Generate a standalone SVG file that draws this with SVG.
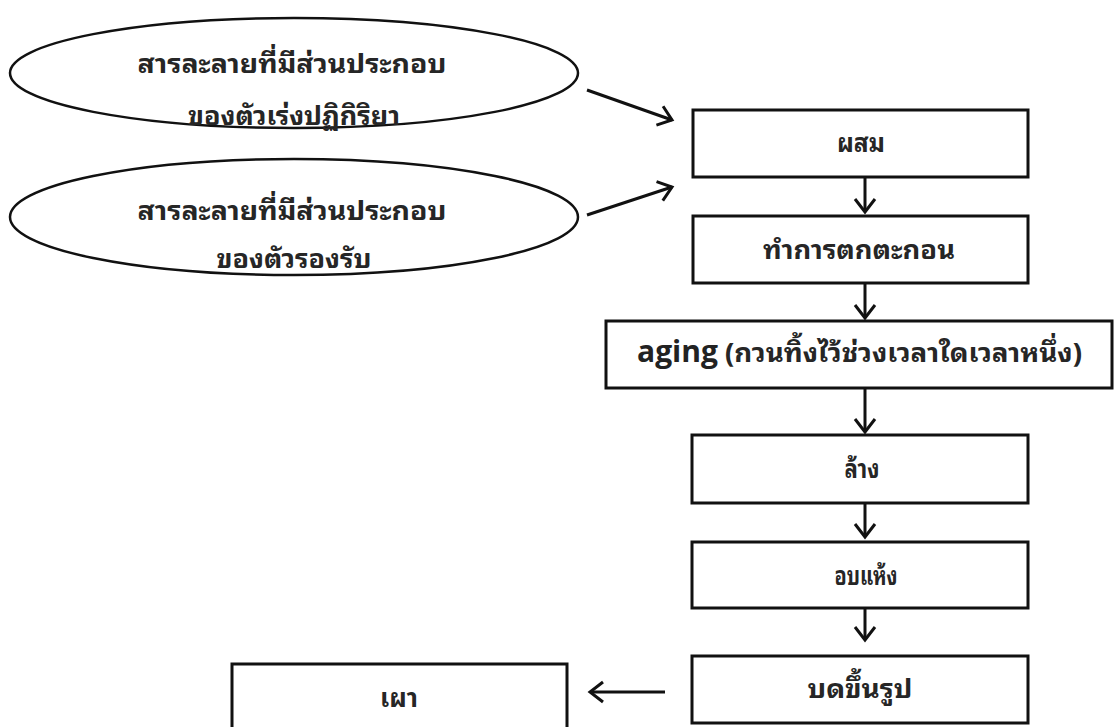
<svg xmlns="http://www.w3.org/2000/svg" width="1114" height="727" viewBox="0 0 1114 727">
<style>
.bg{fill:#ffffff}
.box{fill:#ffffff;stroke:#111;stroke-width:3}
.ell{fill:#ffffff;stroke:#111;stroke-width:2.5}
.t{font-family:"Noto Sans Thai Looped","Noto Sans Thai","Noto Sans","DejaVu Sans",sans-serif;font-size:26px;fill:#262626;font-weight:bold}
.en{font-family:"Open Sans","Liberation Sans",sans-serif;font-size:30px;font-weight:bold;fill:#222}
.c{stroke:#111;stroke-width:3;fill:none}
</style>
<defs>
<marker id="ah" markerUnits="userSpaceOnUse" markerWidth="24" markerHeight="24" viewBox="0 0 24 24" refX="19" refY="12" orient="auto">
<path d="M6,2 L19,12 L6,22" fill="none" stroke="#111" stroke-width="3"/>
</marker>
</defs>
<rect class="bg" x="0" y="0" width="1114" height="727"/>
<g id="connectors">
<line class="c" x1="587" y1="90" x2="672" y2="120" marker-end="url(#ah)"/>
<line class="c" x1="587" y1="215" x2="672" y2="187" marker-end="url(#ah)"/>
<line class="c" x1="865" y1="177" x2="865" y2="212" marker-end="url(#ah)"/>
<line class="c" x1="865" y1="283" x2="865" y2="318" marker-end="url(#ah)"/>
<line class="c" x1="865" y1="388" x2="865" y2="432" marker-end="url(#ah)"/>
<line class="c" x1="865" y1="503" x2="865" y2="537" marker-end="url(#ah)"/>
<line class="c" x1="865" y1="608" x2="865" y2="640" marker-end="url(#ah)"/>
<line class="c" x1="665" y1="692" x2="590" y2="692" marker-end="url(#ah)"/>
</g>
<g id="n-catalyst">
<ellipse class="ell" cx="294" cy="73" rx="284" ry="55"/>
<text class="t" x="292" y="73" text-anchor="middle" textLength="309" lengthAdjust="spacingAndGlyphs">สารละลายที่มีส่วนประกอบ</text>
<text class="t" x="294" y="125" text-anchor="middle" textLength="212" lengthAdjust="spacingAndGlyphs">ของตัวเร่งปฏิกิริยา</text>
</g>
<g id="n-support">
<ellipse class="ell" cx="294" cy="217" rx="284" ry="58"/>
<text class="t" x="292" y="220" text-anchor="middle" textLength="309" lengthAdjust="spacingAndGlyphs">สารละลายที่มีส่วนประกอบ</text>
<text class="t" x="294" y="268" text-anchor="middle" textLength="155" lengthAdjust="spacingAndGlyphs">ของตัวรองรับ</text>
</g>
<g id="n-mix">
<rect class="box" x="693" y="110" width="335" height="67"/>
<text class="t" x="861" y="152" text-anchor="middle" textLength="48" lengthAdjust="spacingAndGlyphs">ผสม</text>
</g>
<g id="n-precip">
<rect class="box" x="693" y="216" width="335" height="67"/>
<text class="t" x="859" y="259" text-anchor="middle" textLength="192" lengthAdjust="spacingAndGlyphs">ทำการตกตะกอน</text>
</g>
<g id="n-aging">
<rect class="box" x="606" y="321" width="506" height="67"/>
<text y="362"><tspan class="en" x="637" textLength="81" lengthAdjust="spacingAndGlyphs">aging</tspan><tspan class="t" x="725" textLength="357" lengthAdjust="spacingAndGlyphs">(กวนทิ้งไว้ช่วงเวลาใดเวลาหนึ่ง)</tspan></text>
</g>
<g id="n-wash">
<rect class="box" x="692" y="435" width="336" height="68"/>
<text class="t" x="862" y="478" text-anchor="middle" textLength="35" lengthAdjust="spacingAndGlyphs">ล้าง</text>
</g>
<g id="n-dry">
<rect class="box" x="692" y="542" width="336" height="66"/>
<text class="t" x="866" y="585" text-anchor="middle" textLength="63" lengthAdjust="spacingAndGlyphs">อบแห้ง</text>
</g>
<g id="n-shape">
<rect class="box" x="692" y="656" width="336" height="67"/>
<text class="t" x="860" y="698" text-anchor="middle" textLength="105" lengthAdjust="spacingAndGlyphs">บดขึ้นรูป</text>
</g>
<g id="n-calcine">
<rect class="box" x="232" y="664" width="335" height="80"/>
<text class="t" x="399" y="707" text-anchor="middle" textLength="38" lengthAdjust="spacingAndGlyphs">เผา</text>
</g>
</svg>
